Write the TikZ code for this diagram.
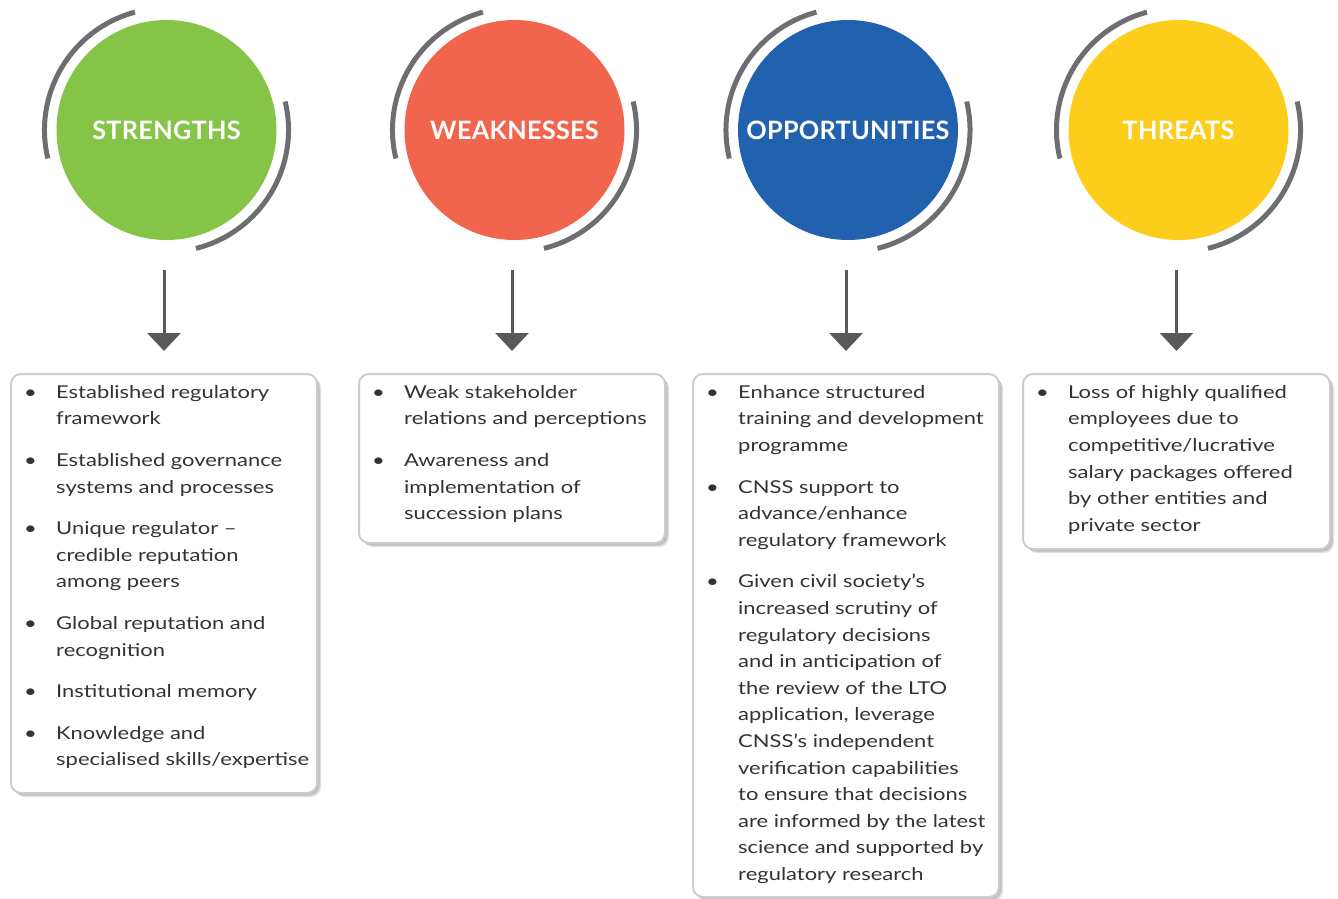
\documentclass[tikz,border=0pt]{standalone}
\usepackage{fontspec}
\setmainfont{Lato}
\newfontfamily\bodyfam{Lato}[FakeStretch=1.24]
\newfontfamily\headfam{Lato Bold}[LetterSpace=1]
\usepackage{array}
\usetikzlibrary{arrows.meta,shadows}
\definecolor{sgreen}{HTML}{85C446}
\definecolor{wred}{HTML}{F1644D}
\definecolor{oblue}{HTML}{2261AD}
\definecolor{tyellow}{HTML}{FDCD1C}
\definecolor{arcgray}{HTML}{6D6E71}
\definecolor{arrgray}{HTML}{58595B}
\definecolor{txtgray}{HTML}{333333}
\definecolor{boxborder}{HTML}{CDCDCD}
\newcommand{\bodyfont}{\bodyfam\fontsize{17.7pt}{26.6pt}\selectfont\color{txtgray}}
\begin{document}
\begin{tikzpicture}[x=1pt,y=-1pt,
  bubble/.style={circle,minimum size=220pt,inner sep=0pt,text=white,
    font=\headfam\fontsize{25.3pt}{30pt}\selectfont},
  ring/.style={draw=arcgray,line width=5pt},
  arr/.style={draw=arrgray,line width=3pt,-{Triangle[width=33pt,length=18pt]}},
  listbox/.style={draw=boxborder,line width=2pt,rounded corners=10pt,fill=white,
    inner sep=0pt,anchor=north west,
    drop shadow={shadow xshift=4pt,shadow yshift=-4pt,fill=black,opacity=0.12},
    drop shadow={shadow xshift=2.5pt,shadow yshift=-2.5pt,fill=black,opacity=0.15}},
  listtext/.style={anchor=north west,inner sep=0pt,font=\bodyfont,align=left}
]
\useasboundingbox (0,0) rectangle (1338,899);

% circles
\node[bubble,fill=sgreen] (s) at (166.5,130) {STRENGTHS};
\node[bubble,fill=wred] (w) at (514.5,130) {WEAKNESSES};
\node[bubble,fill=oblue] (o) at (848,130) {OPPORTUNITIES};
\node[bubble,fill=tyellow] (t) at (1178.5,130) {THREATS};

\foreach \c in {s,w,o,t}{
  \draw[ring] ([shift={(105:122pt)}]\c.center) arc[start angle=105,end angle=193.5,radius=122pt];
  \draw[ring] ([shift={(-76:122pt)}]\c.center) arc[start angle=-76,end angle=13.5,radius=122pt];
}

% boxes
\node[listbox,minimum width=306pt,minimum height=419pt] (sb) at (10,373) {};
\node[listbox,minimum width=306pt,minimum height=169pt] (wb) at (358,373) {};
\node[listbox,minimum width=306pt,minimum height=523pt] (ob) at (692,373) {};
\node[listbox,minimum width=307pt,minimum height=175pt] (tb) at (1022,373) {};

% arrows
\draw[arr] ([yshift=-30pt]sb.north |- s.south) -- ([yshift=22pt]sb.north);
\draw[arr] ([yshift=-30pt]wb.north |- w.south) -- ([yshift=22pt]wb.north);
\draw[arr] ([yshift=-30pt]ob.north |- o.south) -- ([yshift=22pt]ob.north);
\draw[arr] ([yshift=-30pt]tb.north |- t.south) -- ([yshift=22pt]tb.north);

% texts
\node[listtext] (st) at ([shift={(14pt,-6.4pt)}]sb.north west) {%
\begin{tabular}{@{}p{32pt}@{}l@{}}
\textbullet & Established regulatory\\
 & framework\\[15pt]
\textbullet & Established governance\\
 & systems and processes\\[15pt]
\textbullet & Unique regulator –\\
 & credible reputation\\
 & among peers\\[15pt]
\textbullet & Global reputation and\\
 & recognition\\[15pt]
\textbullet & Institutional memory\\[15pt]
\textbullet & Knowledge and\\
 & specialised skills/expertise
\end{tabular}};

\node[listtext] (wt) at ([shift={(14pt,-6.4pt)}]wb.north west) {%
\begin{tabular}{@{}p{32pt}@{}l@{}}
\textbullet & Weak stakeholder\\
 & relations and perceptions\\[15pt]
\textbullet & Awareness and\\
 & implementation of\\
 & succession plans
\end{tabular}};

\node[listtext] (ot) at ([shift={(14pt,-6.4pt)}]ob.north west) {%
\begin{tabular}{@{}p{32pt}@{}l@{}}
\textbullet & Enhance structured\\
 & training and development\\
 & programme\\[15pt]
\textbullet & CNSS support to\\
 & advance/enhance\\
 & regulatory framework\\[15pt]
\textbullet & Given civil society’s\\
 & increased scrutiny of\\
 & regulatory decisions\\
 & and in anticipation of\\
 & the review of the LTO\\
 & application, leverage\\
 & CNSS’s independent\\
 & verification capabilities\\
 & to ensure that decisions\\
 & are informed by the latest\\
 & science and supported by\\
 & regulatory research
\end{tabular}};

\node[listtext] (tt) at ([shift={(14pt,-6.4pt)}]tb.north west) {%
\begin{tabular}{@{}p{32pt}@{}l@{}}
\textbullet & Loss of highly qualified\\
 & employees due to\\
 & competitive/lucrative\\
 & salary packages offered\\
 & by other entities and\\
 & private sector
\end{tabular}};
\end{tikzpicture}
\end{document}
